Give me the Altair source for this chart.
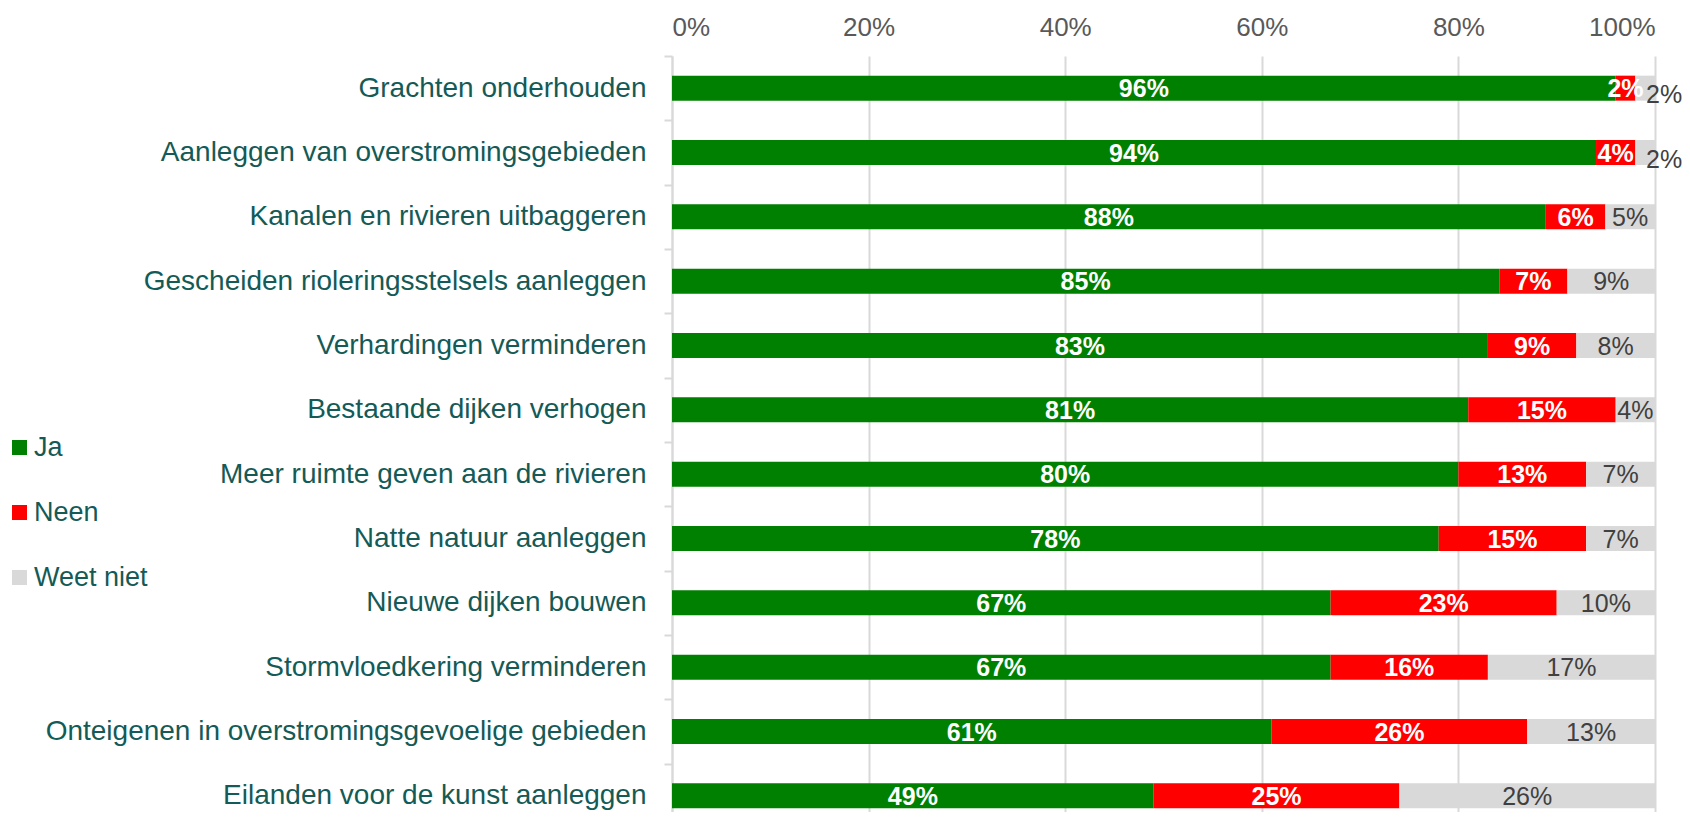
import altair as alt
import pandas as pd

categories = [
    "Grachten onderhouden",
    "Aanleggen van overstromingsgebieden",
    "Kanalen en rivieren uitbaggeren",
    "Gescheiden rioleringsstelsels aanleggen",
    "Verhardingen verminderen",
    "Bestaande dijken verhogen",
    "Meer ruimte geven aan de rivieren",
    "Natte natuur aanleggen",
    "Nieuwe dijken bouwen",
    "Stormvloedkering verminderen",
    "Onteigenen in overstromingsgevoelige gebieden",
    "Eilanden voor de kunst aanleggen",
]
ja = [96, 94, 88, 85, 83, 81, 80, 78, 67, 67, 61, 49]
neen = [2, 4, 6, 7, 9, 15, 13, 15, 23, 16, 26, 25]
weet_niet = [2, 2, 5, 9, 8, 4, 7, 7, 10, 17, 13, 26]

answers = ["Ja", "Neen", "Weet niet"]
colors = ["#008000", "#ff0000", "#d9d9d9"]
x_ticks = [0, 0.2, 0.4, 0.6, 0.8, 1.0]

rows = []
for i, c in enumerate(categories):
    for j, (a, vals) in enumerate(zip(answers, [ja, neen, weet_niet])):
        rows.append({"cat": c, "answer": a, "value": vals[i], "order": j,
                     "label": f"{vals[i]}%"})
df = pd.DataFrame(rows)

TEAL = "#145a56"
FONT = "Liberation Sans"

base = alt.Chart(df).transform_stack(
    stack="value", groupby=["cat"], sort=[alt.SortField("order")],
    as_=["v0", "v1"], offset="normalize"
).transform_calculate(mid="(datum.v0 + datum.v1) / 2")

yenc = alt.Y(
    "cat:N", sort=categories, title=None,
    scale=alt.Scale(range=[0, 772], paddingInner=0, paddingOuter=0),
    axis=alt.Axis(
        labelFont=FONT, labelFontSize=28, labelColor=TEAL, labelLimit=800,
        tickBand="extent", tickSize=8, tickColor="#d9d9d9", tickWidth=2,
        domainColor="#d9d9d9", domainWidth=2, labelPadding=18,
    ),
)

xscale = alt.Scale(domain=[0, 1], nice=False)

bars = base.mark_bar(size=25).encode(
    x=alt.X("v0:Q", scale=xscale, title=None,
            axis=alt.Axis(orient="top", format=".0%", values=x_ticks,
                          grid=True, gridColor="#d9d9d9", gridWidth=2,
                          domain=False, ticks=False, tickSize=0,
                          labelFont=FONT, labelFontSize=26, labelColor="#595959",
                          labelPadding=16)),
    x2="v1:Q",
    y=yenc,
    color=alt.Color("answer:N", sort=answers,
                    scale=alt.Scale(domain=answers, range=colors),
                    legend=alt.Legend(orient="none", legendX=-666, legendY=378,
                                      title=None, symbolType="square",
                                      symbolSize=225, symbolStrokeWidth=0,
                                      labelFont=FONT, labelFontSize=27,
                                      labelColor=TEAL, rowPadding=37,
                                      labelOffset=1, padding=0)),
    order=alt.Order("order:Q"),
)

white_text = base.transform_filter(alt.datum.answer != "Weet niet").mark_text(
    font=FONT, fontSize=25, fontWeight="bold", color="white", dy=1
).encode(x=alt.X("mid:Q", scale=xscale), y=alt.Y("cat:N", sort=categories), text="label:N")

gray_text = base.transform_filter(
    (alt.datum.answer == "Weet niet") & (alt.datum.value >= 3)
).mark_text(
    font=FONT, fontSize=25, color="#404040", dy=1
).encode(x=alt.X("mid:Q", scale=xscale), y=alt.Y("cat:N", sort=categories), text="label:N")

gray_out = base.transform_filter(
    (alt.datum.answer == "Weet niet") & (alt.datum.value < 3)
).mark_text(
    font=FONT, fontSize=25, color="#404040", align="left", dx=-9, dy=7
).encode(x=alt.X("v1:Q", scale=xscale), y=alt.Y("cat:N", sort=categories), text="label:N")

chart = alt.layer(bars, white_text, gray_text, gray_out).properties(
    width=983, height=756, autosize="none",
    padding={"left": 664, "top": 48, "right": 27, "bottom": 0},
).configure_view(strokeWidth=0)

chart.save("out.html", embed_options={"renderer": "svg", "actions": False})
